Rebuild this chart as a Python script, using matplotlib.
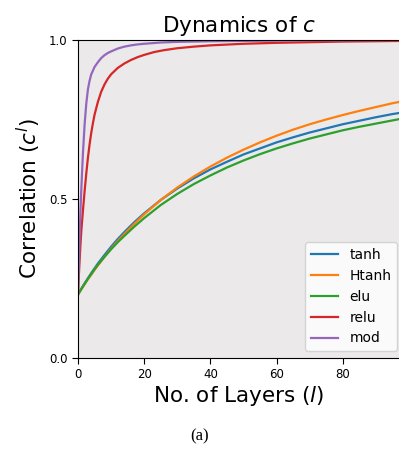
import numpy as np
import matplotlib
matplotlib.use('Agg')
import matplotlib.pyplot as plt

# values
layers_low = [0, 1, 2, 3, 4, 5, 6, 8, 10, 12, 14, 17, 20, 25, 30, 35, 40, 45,
              50, 55, 60, 65, 70, 75, 80, 85, 90, 95, 98]
tanh = [0.200, 0.218, 0.235, 0.251, 0.267, 0.282, 0.297, 0.324, 0.350, 0.374,
        0.396, 0.427, 0.455, 0.497, 0.533, 0.565, 0.593, 0.617, 0.640, 0.659,
        0.678, 0.694, 0.709, 0.722, 0.735, 0.746, 0.757, 0.767, 0.772]
htanh = [0.200, 0.216, 0.232, 0.248, 0.262, 0.277, 0.291, 0.318, 0.344, 0.368,
         0.390, 0.422, 0.452, 0.497, 0.536, 0.571, 0.602, 0.630, 0.655, 0.678,
         0.699, 0.718, 0.735, 0.750, 0.764, 0.777, 0.789, 0.801, 0.807]
elu = [0.200, 0.217, 0.233, 0.249, 0.264, 0.279, 0.293, 0.318, 0.342, 0.364,
       0.384, 0.413, 0.440, 0.481, 0.516, 0.547, 0.574, 0.599, 0.621, 0.641,
       0.659, 0.675, 0.690, 0.703, 0.716, 0.727, 0.737, 0.747, 0.753]

layers_relu = [0, 0.25, 0.5, 0.75, 1, 1.5, 2, 2.5, 3, 3.5, 4, 4.5, 5, 6, 7, 8,
               9, 10, 12, 14, 16, 18, 20, 23, 26, 30, 35, 40, 50, 60, 70, 80,
               90, 98]
relu = [0.200, 0.260, 0.310, 0.357, 0.400, 0.465, 0.525, 0.580, 0.630, 0.672,
        0.708, 0.738, 0.765, 0.805, 0.837, 0.860, 0.878, 0.892, 0.912, 0.926,
        0.937, 0.946, 0.953, 0.962, 0.968, 0.974, 0.979, 0.983, 0.988, 0.991,
        0.993, 0.995, 0.996, 0.997]

layers_mod = [0, 0.25, 0.5, 0.75, 1, 1.25, 1.5, 2, 2.5, 3, 3.5, 4, 5, 6, 7, 8,
              9, 10, 12, 14, 16, 18, 20, 25, 30, 40, 50, 60, 70, 80, 98]
mod = [0.200, 0.290, 0.380, 0.465, 0.530, 0.590, 0.645, 0.735, 0.800, 0.845,
       0.872, 0.892, 0.915, 0.930, 0.943, 0.952, 0.959, 0.964, 0.973, 0.979,
       0.983, 0.986, 0.988, 0.992, 0.994, 0.996, 0.997, 0.998, 0.999, 0.999,
       1.000]

series = [('tanh', layers_low, tanh, '#1f77b4'),
          ('Htanh', layers_low, htanh, '#ff7f0e'),
          ('elu', layers_low, elu, '#2ca02c'),
          ('relu', layers_relu, relu, '#d62728'),
          ('mod', layers_mod, mod, '#9467bd')]

fig = plt.figure(figsize=(3.99, 4.62), dpi=100)
ax = fig.add_axes([0.1955, 0.225, 0.8045, 0.6885])
ax.set_facecolor('#ebe9ea')

for name, xs, ys, col in series:
    ax.plot(xs, ys, color=col, lw=1.6, label=name)

ax.set_xlim(0, 97)
ax.set_ylim(0, 1)
ax.set_xticks([0, 20, 40, 60, 80])
ax.set_yticks([0.0, 0.5, 1.0])
ax.tick_params(labelsize=8.5, length=4)
ax.spines['right'].set_visible(False)

ax.set_title('Dynamics of $c$', fontsize=15.5, pad=6)
ax.set_xlabel('No. of Layers ($l$)', fontsize=15.5, labelpad=2)
ax.set_ylabel('Correlation ($c^l$)', fontsize=15.5, labelpad=4)

ax.legend(loc='lower right', fontsize=10, handlelength=2.0,
          bbox_to_anchor=(0.994, 0.022), borderaxespad=0)

fig.text(0.5, 0.055, '(a)', ha='center', va='center', fontsize=12,
         family='Liberation Serif')

fig.savefig('out.png', dpi=100)
